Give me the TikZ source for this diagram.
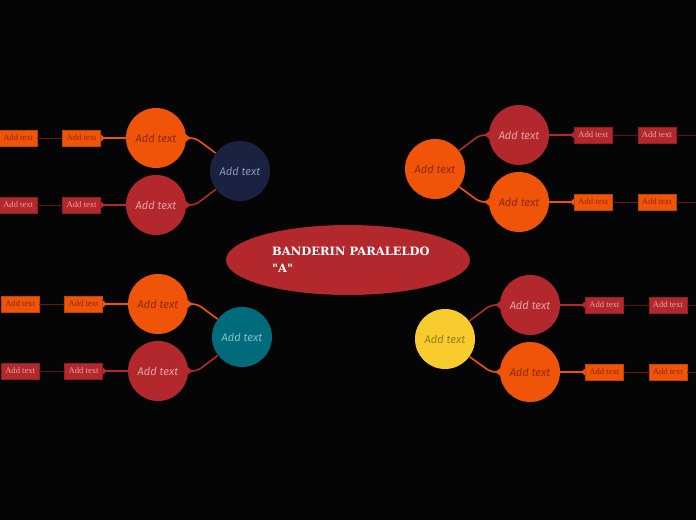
\documentclass[tikz,border=0pt]{standalone}
\usepackage{fontspec}
\usepackage{tikz}
\usetikzlibrary{arrows.meta,positioning,shapes.geometric}
\newfontfamily\handfont{Fira Sans}
\newfontfamily\leaffont{Liberation Serif}
\newfontfamily\titlefont{DejaVu Serif}
\definecolor{BgBlack}{HTML}{050505}
\definecolor{FlagOrange}{HTML}{F05408}
\definecolor{FlagRed}{HTML}{B2282D}
\definecolor{FlagNavy}{HTML}{1B2241}
\definecolor{FlagTeal}{HTML}{006B7A}
\definecolor{FlagYellow}{HTML}{F9CC2E}
\definecolor{InkOrange}{HTML}{8C2A05}
\definecolor{InkRed}{HTML}{E6A3A3}
\definecolor{InkNavy}{HTML}{8A95B5}
\definecolor{InkTeal}{HTML}{7EC4CC}
\definecolor{InkYellow}{HTML}{9A7A1A}
\definecolor{TwigOrange}{HTML}{5E200A}
\definecolor{TwigRed}{HTML}{5A1416}

\begin{document}
\begin{tikzpicture}[x=1pt,y=-1pt,
  node distance=25pt,
  hub/.style={circle,minimum size=60pt,inner sep=0pt,font=\handfont\itshape\fontsize{11}{13}\selectfont},
  topic/.style={hub},
  leaf/.style={rectangle,minimum width=38pt,minimum height=16pt,inner sep=1pt,font=\leaffont\fontsize{8.6}{10}\selectfont},
  orangeleaf/.style={leaf,fill=FlagOrange,draw=FlagOrange!80!black,text=InkOrange},
  redleaf/.style={leaf,fill=FlagRed,draw=FlagRed!80!black,text=InkRed},
  link/.style={-{Triangle[reversed,length=4pt,width=7pt]},line width=1.6pt,draw=#1,rounded corners=5pt},
  twig/.style={line width=1pt,draw=#1}
]
\fill[BgBlack] (0,0) rectangle (696,520);
\useasboundingbox (0,0) rectangle (696,520);

% central topic
\node[ellipse,fill=FlagRed,minimum width=244pt,minimum height=70pt] (main) at (348,260) {};
\node[anchor=west,align=left,text=white,inner sep=0pt,font=\titlefont\bfseries\fontsize{11.5}{17}\selectfont] (title) at (272,260) {BANDERIN PARALELDO\\"A"};

% top left
\node[hub,fill=FlagNavy,text=InkNavy] (hubTL) at (240,171) {Add text};
\node[topic,fill=FlagOrange,text=InkOrange] (tlA) at (156,138) {Add text};
\node[topic,fill=FlagRed,text=InkRed] (tlB) at (156,205) {Add text};
\node[orangeleaf,left=of tlA] (tlA1) {Add text};
\node[orangeleaf,left=of tlA1] (tlA2) {Add text};
\node[redleaf,left=of tlB] (tlB1) {Add text};
\node[redleaf,left=of tlB1] (tlB2) {Add text};
\draw[link=FlagOrange] (hubTL) -- ([xshift=9pt]tlA.east) -- (tlA.east);
\draw[link=FlagRed] (hubTL) -- ([xshift=9pt]tlB.east) -- (tlB.east);
\draw[link=FlagOrange] (tlA) -- (tlA1);
\draw[link=FlagRed] (tlB) -- (tlB1);
\draw[twig=TwigOrange] (tlA1) -- (tlA2);
\draw[twig=TwigRed] (tlB1) -- (tlB2);

% top right
\node[hub,fill=FlagOrange,text=InkOrange] (hubTR) at (435,169) {Add text};
\node[topic,fill=FlagRed,text=InkRed] (trA) at (519,135) {Add text};
\node[topic,fill=FlagOrange,text=InkOrange] (trB) at (519,202) {Add text};
\node[redleaf,right=of trA] (trA1) {Add text};
\node[redleaf,right=of trA1] (trA2) {Add text};
\node[orangeleaf,right=of trB] (trB1) {Add text};
\node[orangeleaf,right=of trB1] (trB2) {Add text};
\coordinate (endTRA) at (696,135);
\coordinate (endTRB) at (696,202);
\draw[link=FlagRed] (hubTR) -- ([xshift=-9pt]trA.west) -- (trA.west);
\draw[link=FlagOrange] (hubTR) -- ([xshift=-9pt]trB.west) -- (trB.west);
\draw[link=FlagRed] (trA) -- (trA1);
\draw[link=FlagOrange] (trB) -- (trB1);
\draw[twig=TwigRed] (trA1) -- (trA2) -- (endTRA);
\draw[twig=TwigOrange] (trB1) -- (trB2) -- (endTRB);

% bottom left
\node[hub,fill=FlagTeal,text=InkTeal] (hubBL) at (242,337) {Add text};
\node[topic,fill=FlagOrange,text=InkOrange] (blA) at (158,304) {Add text};
\node[topic,fill=FlagRed,text=InkRed] (blB) at (158,371) {Add text};
\node[orangeleaf,left=of blA] (blA1) {Add text};
\node[orangeleaf,left=of blA1] (blA2) {Add text};
\node[redleaf,left=of blB] (blB1) {Add text};
\node[redleaf,left=of blB1] (blB2) {Add text};
\draw[link=FlagOrange] (hubBL) -- ([xshift=9pt]blA.east) -- (blA.east);
\draw[link=FlagRed] (hubBL) -- ([xshift=9pt]blB.east) -- (blB.east);
\draw[link=FlagOrange] (blA) -- (blA1);
\draw[link=FlagRed] (blB) -- (blB1);
\draw[twig=TwigOrange] (blA1) -- (blA2);
\draw[twig=TwigRed] (blB1) -- (blB2);

% bottom right
\node[hub,fill=FlagYellow,text=InkYellow] (hubBR) at (445,339) {Add text};
\node[topic,fill=FlagRed,text=InkRed] (brA) at (530,305) {Add text};
\node[topic,fill=FlagOrange,text=InkOrange] (brB) at (530,372) {Add text};
\node[redleaf,right=of brA] (brA1) {Add text};
\node[redleaf,right=of brA1] (brA2) {Add text};
\node[orangeleaf,right=of brB] (brB1) {Add text};
\node[orangeleaf,right=of brB1] (brB2) {Add text};
\coordinate (endBRA) at (696,305);
\coordinate (endBRB) at (696,372);
\draw[link=FlagRed] (hubBR) -- ([xshift=-9pt]brA.west) -- (brA.west);
\draw[link=FlagOrange] (hubBR) -- ([xshift=-9pt]brB.west) -- (brB.west);
\draw[link=FlagRed] (brA) -- (brA1);
\draw[link=FlagOrange] (brB) -- (brB1);
\draw[twig=TwigRed] (brA1) -- (brA2) -- (endBRA);
\draw[twig=TwigOrange] (brB1) -- (brB2) -- (endBRB);
\end{tikzpicture}
\end{document}
